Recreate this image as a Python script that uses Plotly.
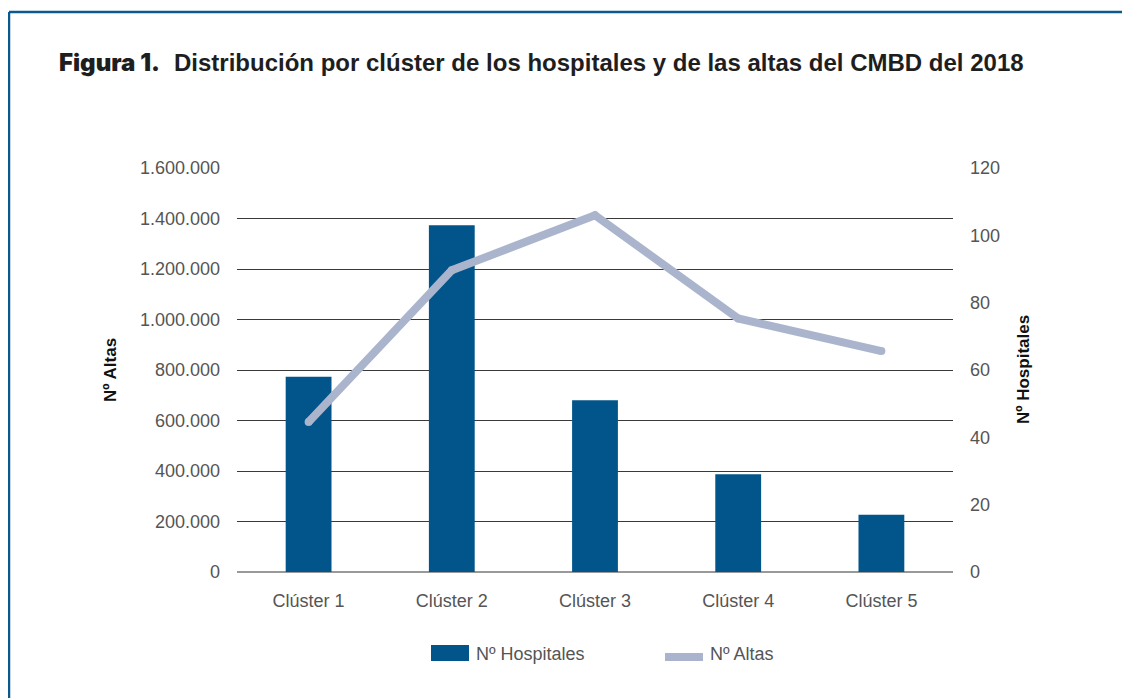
import plotly.graph_objects as go

# ---- data ----
categories = ["Clúster 1", "Clúster 2", "Clúster 3", "Clúster 4", "Clúster 5"]
n_hospitales = [58, 103, 51, 29, 17]
n_altas = [594000, 1195000, 1413000, 1004000, 875000]
left_ticks = [0, 200000, 400000, 600000, 800000, 1000000, 1200000, 1400000, 1600000]
right_ticks = [0, 20, 40, 60, 80, 100, 120]

BAR_COLOR = "#02558A"
LINE_COLOR = "#AAB5CD"
TICK_COLOR = "#555555"
FONT = "Liberation Sans, Arial, Helvetica, sans-serif"

OFF = 8  # page body margin
W, H = 1130 - OFF, 698 - OFF
L, R, T, B = 237, 953, 168, 572  # plot area in page pixels


def px(x):
    return (x - L) / (R - L)


def py(y):
    return (B - y) / (B - T)


fig = go.Figure()
# bars on primary y (right side, Nº Hospitales); line on overlay y2 (left side, Nº Altas) so it draws on top
fig.add_trace(go.Bar(
    x=categories, y=n_hospitales, name="Nº Hospitales",
    marker=dict(color=BAR_COLOR, line=dict(width=0)),
    width=0.32, yaxis="y", showlegend=False,
))
fig.add_trace(go.Scatter(
    x=categories, y=n_altas, name="Nº Altas", mode="lines+markers",
    line=dict(color=LINE_COLOR, width=8),
    marker=dict(color=LINE_COLOR, size=8),
    yaxis="y2", showlegend=False,
))

shapes = [
    # frame
    dict(type="line", xref="paper", yref="paper", x0=px(9), x1=px(1140), y0=py(12), y1=py(12),
         line=dict(color="#0B5A8E", width=2.5)),
    dict(type="line", xref="paper", yref="paper", x0=px(9), x1=px(9), y0=py(12), y1=py(710),
         line=dict(color="#0B5A8E", width=2.5)),
    # legend swatches
    dict(type="rect", xref="paper", yref="paper", x0=px(431), x1=px(469), y0=py(645), y1=py(661),
         fillcolor=BAR_COLOR, line=dict(width=0)),
    dict(type="rect", xref="paper", yref="paper", x0=px(665), x1=px(703), y0=py(653), y1=py(661),
         fillcolor=LINE_COLOR, line=dict(width=0)),
]

annotations = [
    dict(xref="paper", yref="paper", x=px(57), y=py(62), xanchor="left", yanchor="middle",
         showarrow=False, text="Figura 1.",
         font=dict(family="Inter", size=24, color="#1E1E1E", weight=900)),
    dict(xref="paper", yref="paper", x=px(172), y=py(62), xanchor="left", yanchor="middle",
         showarrow=False,
         text="Distribución por clúster de los hospitales y de las altas del CMBD del 2018",
         font=dict(family=FONT, size=24, color="#1E1E1E", weight="bold")),
    dict(xref="paper", yref="paper", x=px(110), y=py(370), xanchor="center", yanchor="middle",
         showarrow=False, textangle=-90, text="<b>Nº Altas</b>",
         font=dict(family=FONT, size=17, color="#111111")),
    dict(xref="paper", yref="paper", x=px(1023), y=py(370), xanchor="center", yanchor="middle",
         showarrow=False, textangle=-90, text="<b>Nº Hospitales</b>",
         font=dict(family=FONT, size=17, color="#111111")),
    dict(xref="paper", yref="paper", x=px(474), y=py(654), xanchor="left", yanchor="middle",
         showarrow=False, text="Nº Hospitales", font=dict(family=FONT, size=18, color=TICK_COLOR)),
    dict(xref="paper", yref="paper", x=px(708), y=py(654), xanchor="left", yanchor="middle",
         showarrow=False, text="Nº Altas", font=dict(family=FONT, size=18, color=TICK_COLOR)),
]

fig.update_layout(
    width=W, height=H,
    margin=dict(l=L - OFF, r=W - (R - OFF), t=T - OFF, b=H - (B - OFF), autoexpand=False),
    paper_bgcolor="white", plot_bgcolor="white",
    separators=",.",
    font=dict(family=FONT, size=18, color=TICK_COLOR),
    xaxis=dict(
        type="category", showgrid=False, showline=False, zeroline=False,
        ticks="", tickfont=dict(size=18, color=TICK_COLOR), ticklabelstandoff=16,
    ),
    yaxis=dict(
        range=[0, 120], tickvals=right_ticks, side="right",
        showgrid=False, zeroline=False, showline=False, ticks="",
        tickfont=dict(size=18, color=TICK_COLOR), ticklabelstandoff=16,
    ),
    yaxis2=dict(
        range=[0, 1600000], tickvals=left_ticks, tickformat=",d",
        overlaying="y", side="left",
        showgrid=True, gridcolor="#3A3A3A", gridwidth=1,
        zeroline=True, zerolinecolor="#999999", zerolinewidth=2,
        showline=False, ticks="", tickfont=dict(size=18, color=TICK_COLOR),
        ticklabelstandoff=16,
    ),
    shapes=shapes,
    annotations=annotations,
    showlegend=False,
)

fig.write_html("out.html")
